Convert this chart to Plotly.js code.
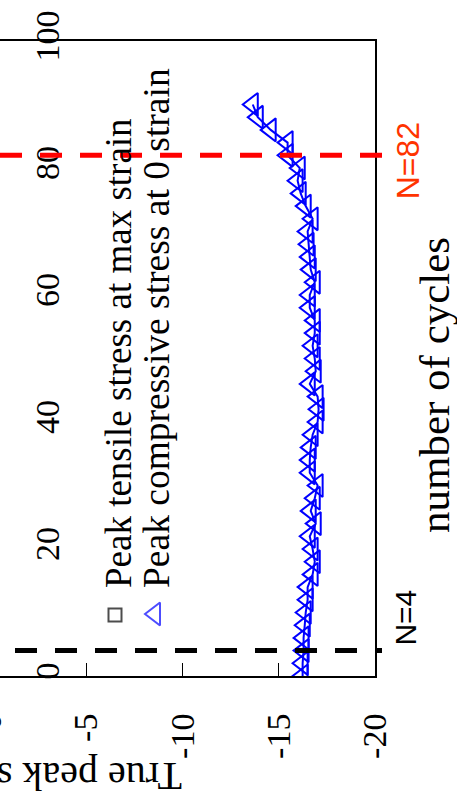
<!DOCTYPE html>
<html><head><meta charset="utf-8">
<script src="https://cdn.plot.ly/plotly-3.0.1.min.js"></script>
<style>
html,body{margin:0;padding:0;overflow:hidden;background:#fff;width:457px;height:804px;}
#chart{position:absolute;left:-60px;top:0;width:517px;height:804px;}
</style></head><body><div id="chart"></div>
<script>
// ---- data ----
const cycles = [0,2,4,6,8,10,12,14,16,18,20,22,24,26,28,30,32,34,36,38,40,42,44,46,48,50,52,54,56,58,60,62,64,66,68,70,72,74,76,78,80,82,84,86,88,90];
const compressiveStress = [-16.24,-16.24,-16.29,-16.29,-16.35,-16.40,-16.50,-16.50,-16.76,-16.87,-16.76,-16.61,-16.92,-16.66,-16.87,-17.02,-16.61,-16.61,-16.66,-16.76,-17.02,-17.07,-17.02,-16.61,-16.92,-16.87,-16.76,-16.87,-16.87,-16.61,-16.61,-16.87,-16.66,-16.61,-16.55,-16.50,-16.76,-16.40,-16.14,-15.98,-16.09,-15.46,-15.46,-14.58,-13.91,-13.65];
const cycleTicks = [0,20,40,60,80,100];
const stressTickVals = [0,-5,-10,-15,-20];
const stressTickText = ['0','-5','-10','-15','-20'];
const seriesNames = ['Peak tensile stress at max strain','Peak compressive stress at 0 strain'];
const markerCycles = [4, 82];
const markerLabels = ['N=4','N=82'];
const cycleTitle = 'number of cycles';
const stressTitle = 'True peak stress (MPa)';

// ---- layout helpers (window pixels -> paper fractions) ----
const LEFT = -60, PW = 435, TOP = 41, PH = 635;
const px = x => (x - LEFT) / PW;
const py = y => (TOP + PH - y) / PH;

const SERIF = 'Liberation Serif, Times New Roman, serif';
const SANS = 'Liberation Sans, Arial, sans-serif';

const traces = [
  {
    x: compressiveStress, y: cycles, type: 'scatter', mode: 'lines+markers',
    line: {color: '#0000ff', width: 2},
    marker: {symbol: 'triangle-left-open', size: 20, color: '#0000ff', line: {color: '#0000ff', width: 2}},
    name: seriesNames[1], showlegend: false, hoverinfo: 'skip'
  },
  {
    x: [px(115), px(155)], y: [py(615), py(614)], xaxis: 'x2', yaxis: 'y2',
    type: 'scatter', mode: 'markers', showlegend: false, hoverinfo: 'skip', cliponaxis: false,
    marker: {symbol: ['square-open', 'triangle-left-open'], size: [13, 20], color: ['#000000', '#0000ff'],
             line: {color: ['#000000', '#0000ff'], width: 2}}
  }
];

const layout = {
  width: 517, height: 804,
  margin: {l: 0, r: 82, t: 41, b: 128, pad: 0},
  paper_bgcolor: '#fff', plot_bgcolor: '#fff',
  showlegend: false,
  xaxis: {
    range: [2.6, -20], tickvals: stressTickVals, ticktext: stressTickText,
    ticks: 'inside', ticklen: 13, tickwidth: 1, tickcolor: '#000',
    tickangle: -90, ticklabelstandoff: 22,
    tickfont: {family: SERIF, size: 34, color: '#000'},
    showline: true, mirror: true, linecolor: '#000', linewidth: 2,
    showgrid: false, zeroline: false
  },
  yaxis: {
    range: [0, 100], tickvals: cycleTicks,
    ticks: '', ticklabelposition: 'inside', ticklabeloverflow: 'allow',
    tickangle: -90, ticklabelstandoff: 82,
    tickfont: {family: SERIF, size: 34, color: '#000'},
    showline: true, mirror: true, linecolor: '#000', linewidth: 2,
    showgrid: false, zeroline: false
  },
  xaxis2: {overlaying: 'x', anchor: 'y2', range: [0, 1], visible: false},
  yaxis2: {overlaying: 'y', anchor: 'x2', range: [0, 1], visible: false},
  shapes: [
    {type: 'line', xref: 'paper', yref: 'y', x0: px(0), x1: px(382), y0: markerCycles[1], y1: markerCycles[1],
     line: {color: '#ff0000', width: 5, dash: '22px,18px'}, layer: 'above'},
    {type: 'line', xref: 'paper', yref: 'y', x0: px(15), x1: px(382), y0: markerCycles[0], y1: markerCycles[0],
     line: {color: '#000000', width: 5, dash: '22px,18px'}, layer: 'above'}
  ],
  annotations: [
    {xref: 'paper', yref: 'paper', x: px(118), y: py(590), xanchor: 'center', yanchor: 'bottom',
     textangle: -90, text: seriesNames[0], showarrow: false, font: {family: SERIF, size: 37, color: '#000'}},
    {xref: 'paper', yref: 'paper', x: px(156), y: py(590), xanchor: 'center', yanchor: 'bottom',
     textangle: -90, text: seriesNames[1], showarrow: false, font: {family: SERIF, size: 37.5, color: '#000'}},
    {xref: 'paper', yref: 'paper', x: px(434), y: py(385), xanchor: 'center', yanchor: 'middle',
     textangle: -90, text: cycleTitle, showarrow: false, font: {family: SERIF, size: 43, color: '#000'}},
    {xref: 'paper', yref: 'paper', x: px(-3), y: py(777), xanchor: 'center', yanchor: 'middle',
     textangle: 180, text: stressTitle, showarrow: false, font: {family: SERIF, size: 40, color: '#000'}},
    {xref: 'paper', yref: 'y', x: px(408), y: markerCycles[1], yshift: -5, xanchor: 'center', yanchor: 'middle',
     textangle: -90, text: markerLabels[1], showarrow: false, font: {family: SANS, size: 32, color: 'rgb(255,51,0)'}},
    {xref: 'paper', yref: 'y', x: px(406), y: markerCycles[0], yshift: 33, xanchor: 'center', yanchor: 'middle',
     textangle: -90, text: markerLabels[0], showarrow: false, font: {family: SANS, size: 30, color: '#000'}}
  ]
};

Plotly.newPlot('chart', traces, layout, {staticPlot: true, displayModeBar: false});
</script></body></html>
